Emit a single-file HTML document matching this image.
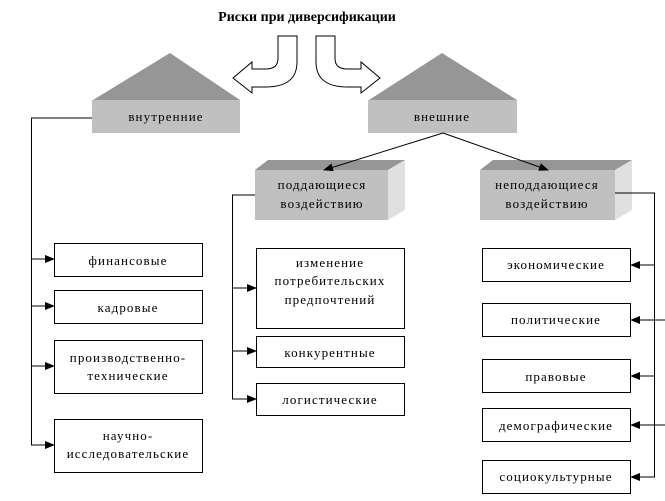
<!DOCTYPE html>
<html><head><meta charset="utf-8"><style>
body{margin:0;background:#fff}
svg text{font-family:"Liberation Serif",serif;font-size:13px;letter-spacing:1.1px;fill:#000}
</style></head><body>
<svg width="665" height="496" viewBox="0 0 665 496" xmlns="http://www.w3.org/2000/svg">
<defs><marker id="a" markerWidth="10" markerHeight="8" refX="9" refY="4" orient="auto" markerUnits="userSpaceOnUse"><path d="M0,0 L10,4 L0,8 Z" fill="#000"/></marker></defs>
<text x="307" y="21" text-anchor="middle" style="font-weight:bold;font-size:14px;letter-spacing:0">Риски при диверсификации</text>
<path d="M278,36 L297,36 L297,62 C297,80 285,87 265,87 L252,87 L252,93 L233,78 L252,62 L252,69 L265,69 C275,69 278,65 278,58 Z" fill="#fff" stroke="#000" stroke-width="1"/>
<g transform="translate(613,0) scale(-1,1)"><path d="M278,36 L297,36 L297,62 C297,80 285,87 265,87 L252,87 L252,93 L233,78 L252,62 L252,69 L265,69 C275,69 278,65 278,58 Z" fill="#fff" stroke="#000" stroke-width="1"/></g>
<polygon points="93,100 170,53 240,100" fill="#969696"/>
<rect x="92" y="100" width="148" height="33" fill="#c0c0c0"/>
<text x="166" y="121" text-anchor="middle">внутренние</text>
<polygon points="369,100 442,53 517,100" fill="#969696"/>
<rect x="368" y="100" width="149" height="33" fill="#c0c0c0"/>
<text x="442" y="121" text-anchor="middle">внешние</text>
<polygon points="255,170 268,160 405,160 388,170" fill="#969696"/>
<polygon points="388,170 405,160 405,210 388,220" fill="#e0e0e0"/>
<rect x="255" y="170" width="133" height="50" fill="#c0c0c0"/>
<text x="322" y="189" text-anchor="middle">поддающиеся</text>
<text x="322" y="208" text-anchor="middle">воздействию</text>
<polygon points="480,170 493,160 632,160 615,170" fill="#969696"/>
<polygon points="615,170 632,160 632,210 615,220" fill="#e0e0e0"/>
<rect x="480" y="170" width="135" height="50" fill="#c0c0c0"/>
<text x="547" y="189" text-anchor="middle">неподдающиеся</text>
<text x="547" y="208" text-anchor="middle">воздействию</text>
<g stroke="#000" stroke-width="1" fill="none">
<line x1="443" y1="133" x2="324" y2="170" marker-end="url(#a)"/>
<line x1="443" y1="133" x2="548" y2="170" marker-end="url(#a)"/>
<polyline points="92,118 31.5,118 31.5,445"/>
<line x1="31" y1="259" x2="54" y2="259" marker-end="url(#a)"/>
<line x1="31" y1="306" x2="54" y2="306" marker-end="url(#a)"/>
<line x1="31" y1="366" x2="54" y2="366" marker-end="url(#a)"/>
<line x1="31" y1="445" x2="54" y2="445" marker-end="url(#a)"/>
<polyline points="255,195 232.5,195 232.5,399"/>
<line x1="232" y1="288" x2="256" y2="288" marker-end="url(#a)"/>
<line x1="232" y1="351" x2="256" y2="351" marker-end="url(#a)"/>
<line x1="232" y1="399" x2="256" y2="399" marker-end="url(#a)"/>
<polyline points="615,193 654.5,193 654.5,477"/>
<line x1="655" y1="265" x2="631" y2="265" marker-end="url(#a)"/>
<line x1="665" y1="320" x2="631" y2="320" marker-end="url(#a)"/>
<line x1="655" y1="376" x2="631" y2="376" marker-end="url(#a)"/>
<line x1="665" y1="425" x2="631" y2="425" marker-end="url(#a)"/>
<line x1="655" y1="477" x2="631" y2="477" marker-end="url(#a)"/>
<rect x="54.5" y="243.5" width="148" height="33"/>
<rect x="54.5" y="290.5" width="148" height="33"/>
<rect x="54.5" y="340.5" width="148" height="53"/>
<rect x="54.5" y="419.5" width="148" height="53"/>
<rect x="256.5" y="248.5" width="148" height="80"/>
<rect x="256.5" y="336.5" width="148" height="31"/>
<rect x="256.5" y="383.5" width="148" height="32"/>
<rect x="482.5" y="248.5" width="148" height="33"/>
<rect x="482.5" y="303.5" width="148" height="33"/>
<rect x="482.5" y="359.5" width="148" height="33"/>
<rect x="482.5" y="408.5" width="148" height="33"/>
<rect x="482.5" y="460.5" width="148" height="33"/>
</g>
<g text-anchor="middle">
<text x="128" y="265">финансовые</text>
<text x="128" y="312">кадровые</text>
<text x="128" y="362">производственно-</text>
<text x="128" y="380">технические</text>
<text x="128" y="440">научно-</text>
<text x="128" y="458">исследовательские</text>
<text x="330" y="267">изменение</text>
<text x="330" y="285">потребительских</text>
<text x="330" y="304">предпочтений</text>
<text x="330" y="357">конкурентные</text>
<text x="330" y="404">логистические</text>
<text x="556" y="269">экономические</text>
<text x="556" y="324">политические</text>
<text x="556" y="381">правовые</text>
<text x="556" y="430">демографические</text>
<text x="556" y="481">социокультурные</text>
</g>
</svg>
</body></html>
